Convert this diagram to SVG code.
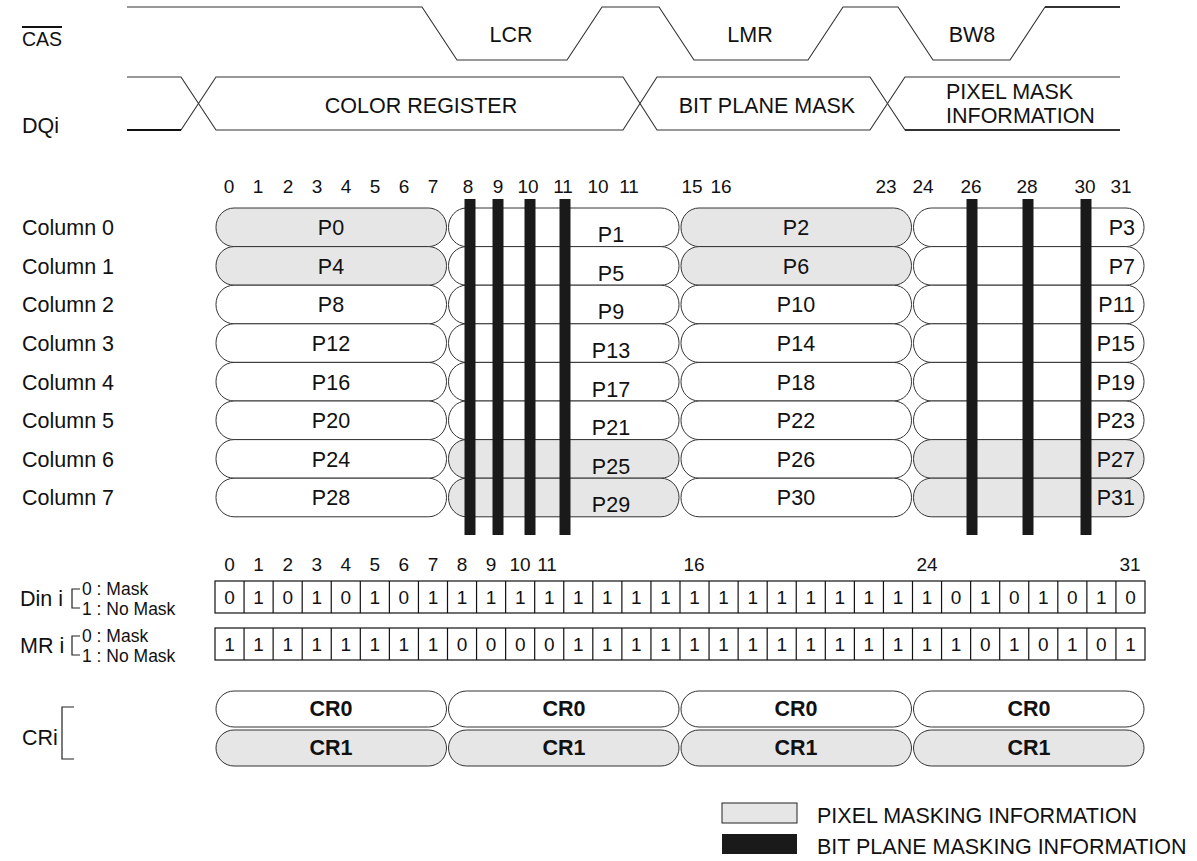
<svg xmlns="http://www.w3.org/2000/svg" width="1197" height="861" viewBox="0 0 1197 861">
<style>
text{font-family:"Liberation Sans",Arial,sans-serif;fill:#111;}
.t{font-size:21.5px;}
.n{font-size:19px;}
.s{font-size:17.5px;}
.c{text-anchor:middle;}
.e{text-anchor:end;}
.b{font-weight:bold;}
.w{fill:none;stroke:#333;stroke-width:1.1;}
.pw{fill:#fff;stroke:#333;stroke-width:1;}
.pg{fill:#e6e6e6;stroke:#333;stroke-width:1;}
.bar{fill:#1a1a1a;}
.cell{fill:#fff;stroke:#111;stroke-width:1.2;}
.br{fill:none;stroke:#222;stroke-width:1.2;}
</style>
<rect width="1197" height="861" fill="#fff"/>

<g id="cas-signal">
<text x="22" y="46" style="font-size:19.5px">CAS</text>
<line x1="22" y1="27" x2="62" y2="27" stroke="#111" stroke-width="2"/>
<path class="w" d="M127,7 H422 L457,60 H567 L602,7 H659 L694,60 H808 L843,7 H898 L933,60 H1010 L1045,7 H1120"/>
<line x1="1045" y1="7" x2="1120" y2="7" stroke="#111" stroke-width="1.6"/>
<text class="t c" x="511" y="42">LCR</text>
<text class="t c" x="750" y="42">LMR</text>
<text class="t c" x="972" y="42">BW8</text>
</g>

<g id="dqi-signal">
<text class="t" x="22" y="133">DQi</text>
<path class="w" d="M127,77 H181 L216,130 H623 L657,77 H870 L905,130 H1120"/>
<path class="w" d="M127,130 H181 L216,77 H623 L657,130 H870 L905,77 H1120"/>
<line x1="127" y1="130" x2="181" y2="130" stroke="#111" stroke-width="1.8"/>
<line x1="905" y1="130" x2="1120" y2="130" stroke="#111" stroke-width="1.6"/>
<text class="t c" x="421" y="113">COLOR REGISTER</text>
<text class="t c" x="767" y="113">BIT PLANE MASK</text>
<text class="t" x="946" y="99">PIXEL MASK</text>
<text class="t" x="946" y="123">INFORMATION</text>
</g>

<g id="bit-index-top">
<text class="n c" x="229" y="193">0</text>
<text class="n c" x="258" y="193">1</text>
<text class="n c" x="288" y="193">2</text>
<text class="n c" x="317" y="193">3</text>
<text class="n c" x="346" y="193">4</text>
<text class="n c" x="375" y="193">5</text>
<text class="n c" x="404" y="193">6</text>
<text class="n c" x="433" y="193">7</text>
<text class="n c" x="468" y="193">8</text>
<text class="n c" x="498" y="193">9</text>
<text class="n c" x="528" y="193">10</text>
<text class="n c" x="563" y="193">11</text>
<text class="n c" x="598" y="193">10</text>
<text class="n c" x="629" y="193">11</text>
<text class="n c" x="692" y="193">15</text>
<text class="n c" x="721" y="193">16</text>
<text class="n c" x="886" y="193">23</text>
<text class="n c" x="923" y="193">24</text>
<text class="n c" x="971" y="193">26</text>
<text class="n c" x="1027" y="193">28</text>
<text class="n c" x="1085" y="193">30</text>
<text class="n c" x="1121" y="193">31</text>
</g>

<g id="row-labels">
<text class="t" x="22" y="235">Column 0</text>
<text class="t" x="22" y="274">Column 1</text>
<text class="t" x="22" y="312">Column 2</text>
<text class="t" x="22" y="351">Column 3</text>
<text class="t" x="22" y="390">Column 4</text>
<text class="t" x="22" y="428">Column 5</text>
<text class="t" x="22" y="467">Column 6</text>
<text class="t" x="22" y="505">Column 7</text>
</g>

<g id="pixel-grid">
<g id="p0"><rect class="pg" x="216" y="208" width="230.5" height="38.6" rx="18" ry="19"/><text class="t c" x="331" y="235">P0</text></g>
<g id="p1"><rect class="pw" x="448.5" y="208" width="230.5" height="38.6" rx="18" ry="19"/><text class="t c" x="611" y="242">P1</text></g>
<g id="p2"><rect class="pg" x="681" y="208" width="230.5" height="38.6" rx="18" ry="19"/><text class="t c" x="796" y="235">P2</text></g>
<g id="p3"><rect class="pw" x="913.5" y="208" width="230.5" height="38.6" rx="18" ry="19"/><text class="t e" x="1135" y="235">P3</text></g>

<g id="p4"><rect class="pg" x="216" y="246.6" width="230.5" height="38.6" rx="18" ry="19"/><text class="t c" x="331" y="274">P4</text></g>
<g id="p5"><rect class="pw" x="448.5" y="246.6" width="230.5" height="38.6" rx="18" ry="19"/><text class="t c" x="611" y="281">P5</text></g>
<g id="p6"><rect class="pg" x="681" y="246.6" width="230.5" height="38.6" rx="18" ry="19"/><text class="t c" x="796" y="274">P6</text></g>
<g id="p7"><rect class="pw" x="913.5" y="246.6" width="230.5" height="38.6" rx="18" ry="19"/><text class="t e" x="1135" y="274">P7</text></g>

<g id="p8"><rect class="pw" x="216" y="285.2" width="230.5" height="38.6" rx="18" ry="19"/><text class="t c" x="331" y="312">P8</text></g>
<g id="p9"><rect class="pw" x="448.5" y="285.2" width="230.5" height="38.6" rx="18" ry="19"/><text class="t c" x="611" y="319">P9</text></g>
<g id="p10"><rect class="pw" x="681" y="285.2" width="230.5" height="38.6" rx="18" ry="19"/><text class="t c" x="796" y="312">P10</text></g>
<g id="p11"><rect class="pw" x="913.5" y="285.2" width="230.5" height="38.6" rx="18" ry="19"/><text class="t e" x="1135" y="312">P11</text></g>

<g id="p12"><rect class="pw" x="216" y="323.8" width="230.5" height="38.6" rx="18" ry="19"/><text class="t c" x="331" y="351">P12</text></g>
<g id="p13"><rect class="pw" x="448.5" y="323.8" width="230.5" height="38.6" rx="18" ry="19"/><text class="t c" x="611" y="358">P13</text></g>
<g id="p14"><rect class="pw" x="681" y="323.8" width="230.5" height="38.6" rx="18" ry="19"/><text class="t c" x="796" y="351">P14</text></g>
<g id="p15"><rect class="pw" x="913.5" y="323.8" width="230.5" height="38.6" rx="18" ry="19"/><text class="t e" x="1135" y="351">P15</text></g>

<g id="p16"><rect class="pw" x="216" y="362.4" width="230.5" height="38.6" rx="18" ry="19"/><text class="t c" x="331" y="390">P16</text></g>
<g id="p17"><rect class="pw" x="448.5" y="362.4" width="230.5" height="38.6" rx="18" ry="19"/><text class="t c" x="611" y="397">P17</text></g>
<g id="p18"><rect class="pw" x="681" y="362.4" width="230.5" height="38.6" rx="18" ry="19"/><text class="t c" x="796" y="390">P18</text></g>
<g id="p19"><rect class="pw" x="913.5" y="362.4" width="230.5" height="38.6" rx="18" ry="19"/><text class="t e" x="1135" y="390">P19</text></g>

<g id="p20"><rect class="pw" x="216" y="401" width="230.5" height="38.6" rx="18" ry="19"/><text class="t c" x="331" y="428">P20</text></g>
<g id="p21"><rect class="pw" x="448.5" y="401" width="230.5" height="38.6" rx="18" ry="19"/><text class="t c" x="611" y="435">P21</text></g>
<g id="p22"><rect class="pw" x="681" y="401" width="230.5" height="38.6" rx="18" ry="19"/><text class="t c" x="796" y="428">P22</text></g>
<g id="p23"><rect class="pw" x="913.5" y="401" width="230.5" height="38.6" rx="18" ry="19"/><text class="t e" x="1135" y="428">P23</text></g>

<g id="p24"><rect class="pw" x="216" y="439.6" width="230.5" height="38.6" rx="18" ry="19"/><text class="t c" x="331" y="467">P24</text></g>
<g id="p25"><rect class="pg" x="448.5" y="439.6" width="230.5" height="38.6" rx="18" ry="19"/><text class="t c" x="611" y="474">P25</text></g>
<g id="p26"><rect class="pw" x="681" y="439.6" width="230.5" height="38.6" rx="18" ry="19"/><text class="t c" x="796" y="467">P26</text></g>
<g id="p27"><rect class="pg" x="913.5" y="439.6" width="230.5" height="38.6" rx="18" ry="19"/><text class="t e" x="1135" y="467">P27</text></g>

<g id="p28"><rect class="pw" x="216" y="478.2" width="230.5" height="38.6" rx="18" ry="19"/><text class="t c" x="331" y="505">P28</text></g>
<g id="p29"><rect class="pg" x="448.5" y="478.2" width="230.5" height="38.6" rx="18" ry="19"/><text class="t c" x="611" y="512">P29</text></g>
<g id="p30"><rect class="pw" x="681" y="478.2" width="230.5" height="38.6" rx="18" ry="19"/><text class="t c" x="796" y="505">P30</text></g>
<g id="p31"><rect class="pg" x="913.5" y="478.2" width="230.5" height="38.6" rx="18" ry="19"/><text class="t e" x="1135" y="505">P31</text></g>
</g>

<g id="bitplane-bars">
<rect class="bar" x="464.5" y="199" width="11" height="336"/>
<rect class="bar" x="492.5" y="199" width="11" height="336"/>
<rect class="bar" x="524.5" y="199" width="11" height="336"/>
<rect class="bar" x="559.5" y="199" width="11" height="336"/>
<rect class="bar" x="966.5" y="199" width="11" height="336"/>
<rect class="bar" x="1022.5" y="199" width="11" height="336"/>
<rect class="bar" x="1080.5" y="199" width="11" height="336"/>
</g>

<g id="bit-index-bottom">
<text class="n c" x="229.5" y="571">0</text>
<text class="n c" x="258.6" y="571">1</text>
<text class="n c" x="287.7" y="571">2</text>
<text class="n c" x="316.7" y="571">3</text>
<text class="n c" x="345.8" y="571">4</text>
<text class="n c" x="374.8" y="571">5</text>
<text class="n c" x="403.9" y="571">6</text>
<text class="n c" x="433" y="571">7</text>
<text class="n c" x="462" y="571">8</text>
<text class="n c" x="491" y="571">9</text>
<text class="n c" x="520" y="571">10</text>
<text class="n c" x="547" y="571">11</text>
<text class="n c" x="694" y="571">16</text>
<text class="n c" x="927" y="571">24</text>
<text class="n c" x="1130" y="571">31</text>
</g>

<g id="din-register">
<text class="t" x="20" y="606">Din i</text>
<path class="br" d="M80,589 H72 V608 H80"/>
<text class="s" x="82" y="595">0 : Mask</text>
<text class="s" x="82" y="615">1 : No Mask</text>
<rect class="cell" x="215" y="581" width="930" height="32"/>
<path stroke="#111" stroke-width="1.2" d="M244.06,581V613M273.13,581V613M302.19,581V613M331.25,581V613M360.31,581V613M389.38,581V613M418.44,581V613M447.5,581V613M476.56,581V613M505.63,581V613M534.69,581V613M563.75,581V613M592.81,581V613M621.88,581V613M650.94,581V613M680,581V613M709.06,581V613M738.13,581V613M767.19,581V613M796.25,581V613M825.31,581V613M854.38,581V613M883.44,581V613M912.5,581V613M941.56,581V613M970.63,581V613M999.69,581V613M1028.75,581V613M1057.81,581V613M1086.88,581V613M1115.94,581V613"/>
<g>
<text class="n c" x="229.5" y="604">0</text><text class="n c" x="258.6" y="604">1</text><text class="n c" x="287.7" y="604">0</text><text class="n c" x="316.7" y="604">1</text>
<text class="n c" x="345.8" y="604">0</text><text class="n c" x="374.8" y="604">1</text><text class="n c" x="403.9" y="604">0</text><text class="n c" x="433" y="604">1</text>
<text class="n c" x="462" y="604">1</text><text class="n c" x="491.1" y="604">1</text><text class="n c" x="520.2" y="604">1</text><text class="n c" x="549.2" y="604">1</text>
<text class="n c" x="578.3" y="604">1</text><text class="n c" x="607.3" y="604">1</text><text class="n c" x="636.4" y="604">1</text><text class="n c" x="665.5" y="604">1</text>
<text class="n c" x="694.5" y="604">1</text><text class="n c" x="723.6" y="604">1</text><text class="n c" x="752.7" y="604">1</text><text class="n c" x="781.7" y="604">1</text>
<text class="n c" x="810.8" y="604">1</text><text class="n c" x="839.8" y="604">1</text><text class="n c" x="868.9" y="604">1</text><text class="n c" x="898" y="604">1</text>
<text class="n c" x="927" y="604">1</text><text class="n c" x="956.1" y="604">0</text><text class="n c" x="985.2" y="604">1</text><text class="n c" x="1014.2" y="604">0</text>
<text class="n c" x="1043.3" y="604">1</text><text class="n c" x="1072.3" y="604">0</text><text class="n c" x="1101.4" y="604">1</text><text class="n c" x="1130.5" y="604">0</text>
</g>
</g>

<g id="mr-register">
<text class="t" x="20" y="653">MR i</text>
<path class="br" d="M80,636 H72 V655 H80"/>
<text class="s" x="82" y="642">0 : Mask</text>
<text class="s" x="82" y="662">1 : No Mask</text>
<rect class="cell" x="215" y="628" width="930" height="32"/>
<path stroke="#111" stroke-width="1.2" d="M244.06,628V660M273.13,628V660M302.19,628V660M331.25,628V660M360.31,628V660M389.38,628V660M418.44,628V660M447.5,628V660M476.56,628V660M505.63,628V660M534.69,628V660M563.75,628V660M592.81,628V660M621.88,628V660M650.94,628V660M680,628V660M709.06,628V660M738.13,628V660M767.19,628V660M796.25,628V660M825.31,628V660M854.38,628V660M883.44,628V660M912.5,628V660M941.56,628V660M970.63,628V660M999.69,628V660M1028.75,628V660M1057.81,628V660M1086.88,628V660M1115.94,628V660"/>
<g>
<text class="n c" x="229.5" y="651">1</text><text class="n c" x="258.6" y="651">1</text><text class="n c" x="287.7" y="651">1</text><text class="n c" x="316.7" y="651">1</text>
<text class="n c" x="345.8" y="651">1</text><text class="n c" x="374.8" y="651">1</text><text class="n c" x="403.9" y="651">1</text><text class="n c" x="433" y="651">1</text>
<text class="n c" x="462" y="651">0</text><text class="n c" x="491.1" y="651">0</text><text class="n c" x="520.2" y="651">0</text><text class="n c" x="549.2" y="651">0</text>
<text class="n c" x="578.3" y="651">1</text><text class="n c" x="607.3" y="651">1</text><text class="n c" x="636.4" y="651">1</text><text class="n c" x="665.5" y="651">1</text>
<text class="n c" x="694.5" y="651">1</text><text class="n c" x="723.6" y="651">1</text><text class="n c" x="752.7" y="651">1</text><text class="n c" x="781.7" y="651">1</text>
<text class="n c" x="810.8" y="651">1</text><text class="n c" x="839.8" y="651">1</text><text class="n c" x="868.9" y="651">1</text><text class="n c" x="898" y="651">1</text>
<text class="n c" x="927" y="651">1</text><text class="n c" x="956.1" y="651">1</text><text class="n c" x="985.2" y="651">0</text><text class="n c" x="1014.2" y="651">1</text>
<text class="n c" x="1043.3" y="651">0</text><text class="n c" x="1072.3" y="651">1</text><text class="n c" x="1101.4" y="651">0</text><text class="n c" x="1130.5" y="651">1</text>
</g>
</g>

<g id="cr-rows">
<text class="t" x="22" y="745">CRi</text>
<path class="br" d="M74,707 H62 V759 H74"/>
<g id="cr0-a"><rect class="pw" x="216" y="691" width="230.5" height="36" rx="18" ry="18"/><text class="t c b" x="331" y="716">CR0</text></g>
<g id="cr0-b"><rect class="pw" x="448.5" y="691" width="230.5" height="36" rx="18" ry="18"/><text class="t c b" x="564" y="716">CR0</text></g>
<g id="cr0-c"><rect class="pw" x="681" y="691" width="230.5" height="36" rx="18" ry="18"/><text class="t c b" x="796" y="716">CR0</text></g>
<g id="cr0-d"><rect class="pw" x="913.5" y="691" width="230.5" height="36" rx="18" ry="18"/><text class="t c b" x="1029" y="716">CR0</text></g>
<g id="cr1-a"><rect class="pg" x="216" y="730" width="230.5" height="36" rx="18" ry="18"/><text class="t c b" x="331" y="755">CR1</text></g>
<g id="cr1-b"><rect class="pg" x="448.5" y="730" width="230.5" height="36" rx="18" ry="18"/><text class="t c b" x="564" y="755">CR1</text></g>
<g id="cr1-c"><rect class="pg" x="681" y="730" width="230.5" height="36" rx="18" ry="18"/><text class="t c b" x="796" y="755">CR1</text></g>
<g id="cr1-d"><rect class="pg" x="913.5" y="730" width="230.5" height="36" rx="18" ry="18"/><text class="t c b" x="1029" y="755">CR1</text></g>
</g>

<g id="legend">
<rect x="722" y="803" width="75" height="20" fill="#e6e6e6" stroke="#222" stroke-width="1"/>
<text class="t" x="817" y="823">PIXEL MASKING INFORMATION</text>
<rect x="722" y="834" width="75" height="20" fill="#1a1a1a"/>
<text class="t" x="817" y="854">BIT PLANE MASKING INFORMATION</text>
</g>

<g id="connectors"></g>
</svg>
